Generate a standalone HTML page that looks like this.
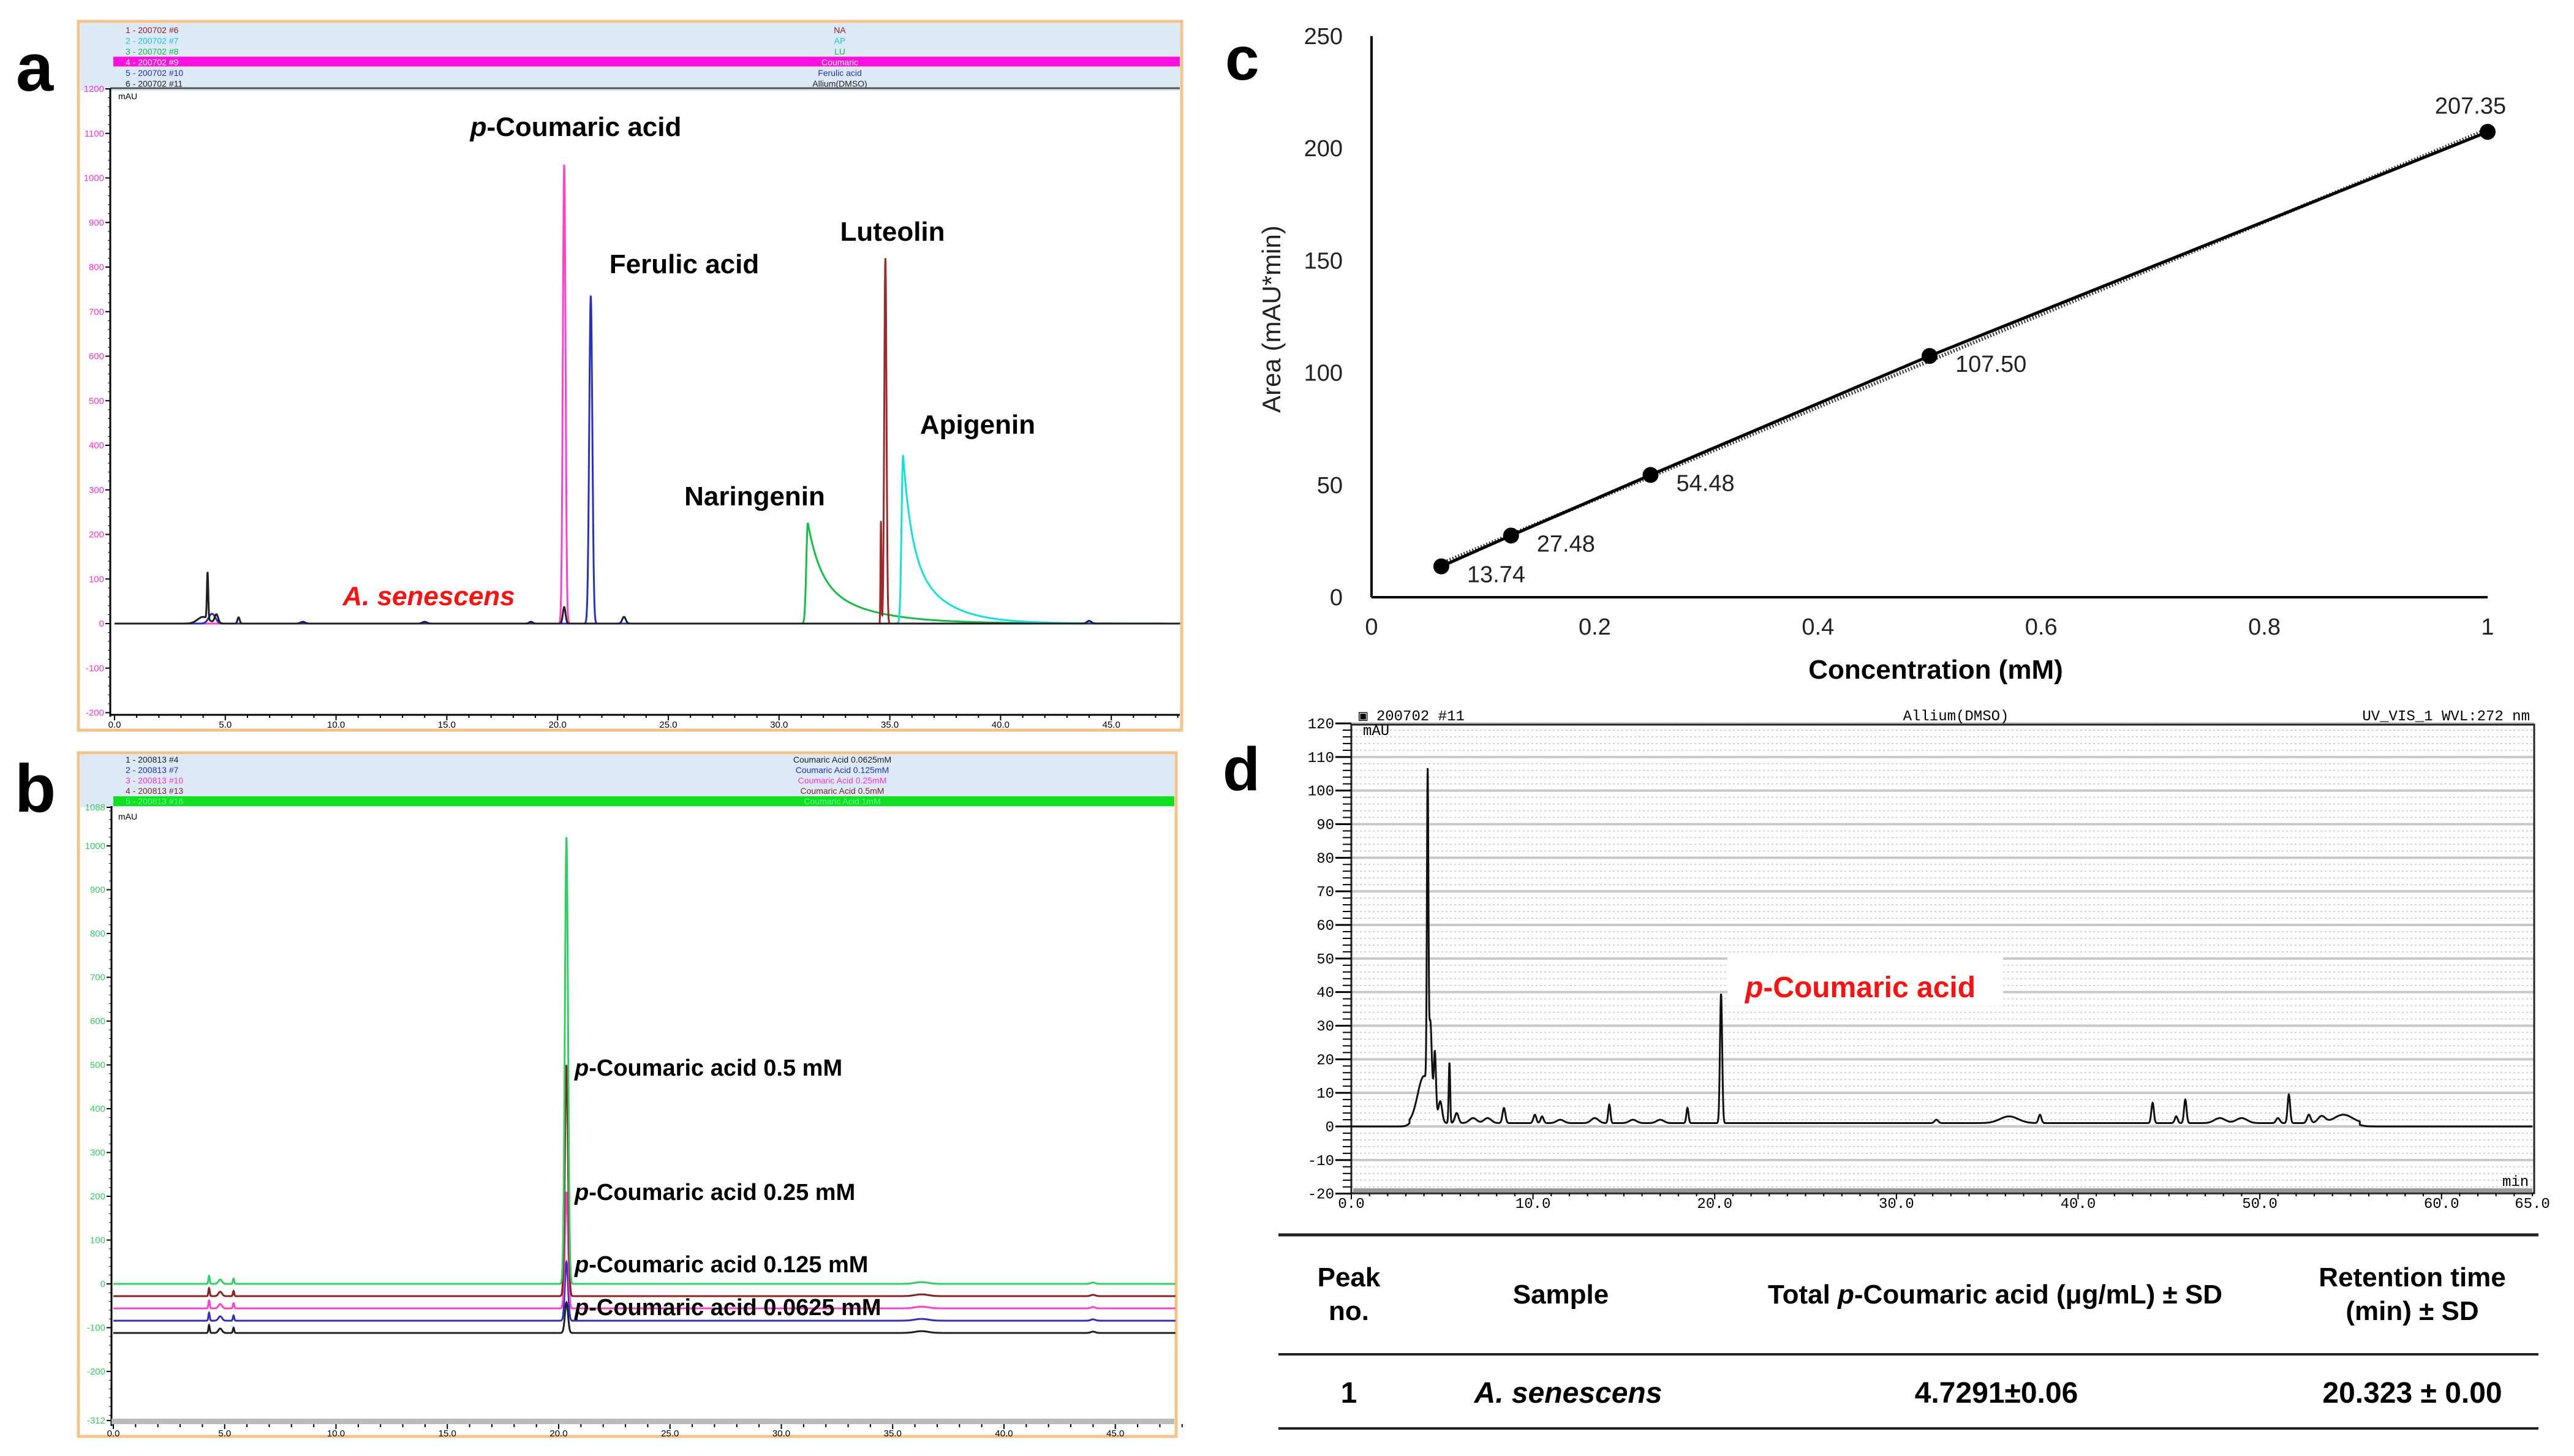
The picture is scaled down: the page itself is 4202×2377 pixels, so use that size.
<!DOCTYPE html>
<html><head><meta charset="utf-8"><style>
html,body{margin:0;padding:0;background:#fff;}
svg{display:block;font-family:"Liberation Sans",Arial,sans-serif;}
</style></head><body>
<svg id="fig" width="4202" height="2377" viewBox="0 0 4202 2377" xmlns="http://www.w3.org/2000/svg">
<rect width="4202" height="2377" fill="#fff"/>
<g id="pa"></g>
<g id="pb"></g>
<g id="pc"></g>
<g id="pd"></g>
</svg>
<script>
// ---------- DATA ----------
const aNA = [[31.3,226,0.07,2.2]];
const aAP = [[35.6,378,0.07,1.5]];
const aLU = [[34.8,820,0.05,0],[34.6,230,0.02,0]];
const aCOU = [[20.3,1030,0.06,0]];
const aFER = [[21.5,736,0.07,0],[4.4,22,0.15,0]];
const aALL = [[4.2,105,0.03,0],[4.0,15,0.25,0],[4.6,20,0.08,0],[5.6,14,0.05,0],[8.5,4,0.1,0],[14,4,0.1,0],[18.8,4,0.08,0],[20.3,37,0.06,0],[23,15,0.08,0],[44,6,0.1,0]];
const aSeries = [aNA, aAP, aLU, aCOU, aFER, aALL];
const aColors = ["#10c040","#10e0e0","#a02828","#ff40c8","#2830c0","#202020"];
const aNames = ["naringenin-trace","apigenin-trace","luteolin-trace","coumaric-trace","ferulic-trace","allium-trace"];
const aYTicks = [1200,1100,1000,900,800,700,600,500,400,300,200,100,0,-100,-200];
const aXTicks = [0,5,10,15,20,25,30,35,40,45];
const bOffsets = [0,-28,-56,-84,-112];
const bPeaks = [1020,528,266,134,70];
const bColors = ["#30d060","#8a2020","#ff40c8","#3030c0","#202020"];
const bYTicks = [1088,1000,900,800,700,600,500,400,300,200,100,0,-100,-200,-312];
const bXTicks = [0,5,10,15,20,25,30,35,40,45];
const cConc = [0.0625,0.125,0.25,0.5,1];
const cArea = [13.74,27.48,54.48,107.50,207.35];
const cLabels = ["13.74","27.48","54.48","107.50","207.35"];
const cYTicks = [0,50,100,150,200,250];
const cXTicks = [0,0.2,0.4,0.6,0.8,1];
const cXTickLabels = ["0","0.2","0.4","0.6","0.8","1"];
const dPeaks = [[4.0,14,0.35,0],[4.2,90,0.04,0],[4.35,22,0.08,0],[4.6,18,0.06,0],[4.9,6,0.1,0],[5.4,18,0.04,0],[5.8,3,0.1,0],[6.7,1.5,0.2,0],[7.5,1.5,0.2,0],[8.4,4.5,0.08,0],[10.1,2.5,0.08,0],[10.5,2,0.08,0],[11.5,1,0.2,0],[13.4,1.5,0.2,0],[14.2,5.5,0.06,0],[15.5,1,0.2,0],[17,1,0.2,0],[18.5,4.5,0.06,0],[20.35,38.5,0.06,0],[32.2,1,0.1,0],[36.2,2,0.5,0],[37.9,2.5,0.08,0],[44.1,6,0.07,0],[45.4,2,0.08,0],[45.9,7,0.07,0],[47.8,1.5,0.3,0],[49,1.5,0.3,0],[51,1.5,0.1,0],[51.6,8.5,0.07,0],[52.7,2.5,0.1,0],[53.4,2,0.2,0],[54.6,2.5,0.5,0]];
const dYTicks = [120,110,100,90,80,70,60,50,40,30,20,10,0,-10,-20];
const dXTicks = [0,10,20,30,40,50,60,65];

const NS="http://www.w3.org/2000/svg";
function mk(parent, tag, attrs, text){
  const e=document.createElementNS(NS,tag);
  for(const k in attrs) e.setAttribute(k,attrs[k]);
  if(text!==undefined) e.textContent=text;
  parent.appendChild(e); return e;
}
function signal(peaks,t){
  let v=0;
  for(const p of peaks){
    const [t0,h,w,tau]=p;
    const dt=t-t0;
    if(tau>0 && dt>0){ v+=h*(0.55*Math.exp(-dt/(tau*0.25))+0.45*Math.exp(-dt/tau)); }
    else v+=h*Math.exp(-dt*dt/(2*w*w));
  }
  return v;
}
function pathFor(peaks,t1,t2,sx,sy,off,baseFn){
  let d="";
  for(let t=t1;t<=t2;t+=0.01){
    const y=signal(peaks,t)+(off||0)+(baseFn?baseFn(t):0);
    d+=(d?"L":"M")+sx(t).toFixed(1)+","+sy(y).toFixed(1);
  }
  return d;
}

(function(){
  const g=document.getElementById('pa');
  const L=128,R=1929,T=35,B=1192;
  const x0=187, xPer=36.16, y0=1018, yPer=(1018-145)/1200;
  const sx=t=>x0+t*xPer, sy=v=>y0-v*yPer;
  let e;
  e=mk(g,'text',{x:26,y:148,'font-size':110,'font-weight':'bold',fill:'#000'},'a');
   
  e=mk(g,'rect',{x:L,y:T,width:R-L,height:B-T,fill:'#fff',stroke:'#f5c28a','stroke-width':5});
   
  e=mk(g,'rect',{x:L+3,y:T+3,width:R-L-6,height:110,fill:'#dceaf8'});
   
  const rowsL=["1 - 200702 #6","2 - 200702 #7","3 - 200702 #8","4 - 200702 #9","5 - 200702 #10","6 - 200702 #11"];
  const rowsR=["NA","AP","LU","Coumaric","Ferulic acid","Allium(DMSO)"];
  const rowC=["#8a2020","#10c8d8","#10c040","#ffffff","#2030c0","#202020"];
  rowsL.forEach((s,i)=>{
    const y=50+i*17.5;
    if(i===3){ const r=mk(g,'rect',{x:185,y:y-10,width:R-185-3,height:16,fill:'#ff10e0'});
        }
    const a=mk(g,'text',{x:205,y:y+4,'font-size':14,fill:rowC[i]},s);
     
    const b=mk(g,'text',{x:1371,y:y+4,'font-size':14,fill:rowC[i],'text-anchor':'middle'},rowsR[i]);
     
  });
  e=mk(g,'line',{x1:180,y1:144,x2:R-3,y2:144,stroke:'#555','stroke-width':3});
   
  e=mk(g,'line',{x1:180,y1:144,x2:180,y2:1170,stroke:'#000','stroke-width':3});
   
  e=mk(g,'line',{x1:180,y1:1167,x2:R-3,y2:1167,stroke:'#000','stroke-width':3});
   
  e=mk(g,'text',{x:193,y:162,'font-size':14,fill:'#000'},'mAU');
   
  aYTicks.forEach(v=>{
    const t=mk(g,'text',{x:170,y:sy(v)+5,'font-size':15,fill:'#ff30d0','text-anchor':'end'},String(v));
     
    const l=mk(g,'line',{x1:172,y1:sy(v),x2:180,y2:sy(v),stroke:'#000','stroke-width':2});
     
  });
  for(let v=-200;v<=1200;v+=20){ mk(g,'line',{x1:176,y1:sy(v),x2:180,y2:sy(v),stroke:'#000','stroke-width':1}); }
  aXTicks.forEach(v=>{
    const t=mk(g,'text',{x:sx(v),y:1188,'font-size':15,fill:'#000','text-anchor':'middle'},v.toFixed(1));
     
  });
  for(let v=0;v<=48;v+=1){ mk(g,'line',{x1:sx(v),y1:1167,x2:sx(v),y2:v%5===0?1176:1172,stroke:'#000','stroke-width':2}); }
  aSeries.forEach((pk,i)=>{
    const p=mk(g,'path',{d:pathFor(pk,0,48.1,sx,sy,0),fill:'none',stroke:aColors[i],'stroke-width':3});
     
  });
  const labs=[["p-Coumaric acid",940,222],["Ferulic acid",1117,446],["Luteolin",1457,393],["Apigenin",1596,708],["Naringenin",1232,825]];
  labs.forEach(l=>{
    let t;
    if(l[0].startsWith('p-')){
      t=mk(g,'text',{x:l[1],y:l[2],'font-size':44,'font-weight':'bold','text-anchor':'middle'});
      mk(t,'tspan',{'font-style':'italic'},'p');
      mk(t,'tspan',{},'-Coumaric acid');
    } else t=mk(g,'text',{x:l[1],y:l[2],'font-size':44,'font-weight':'bold','text-anchor':'middle'},l[0]);
     
  });
  e=mk(g,'text',{x:700,y:988,'font-size':44,'font-weight':'bold','font-style':'italic',fill:'#ff1010','text-anchor':'middle'},'A. senescens');
   
})();

(function(){
  const g=document.getElementById('pb');
  const L=128,R=1920,T=1229,B=2345;
  const x0=185, xPer=36.35, y0=2096, yPer=0.715;
  const sx=t=>x0+t*xPer, sy=v=>y0-v*yPer;
  let e;
  e=mk(g,'text',{x:24,y:1325,'font-size':110,'font-weight':'bold'},'b');
   
  e=mk(g,'rect',{x:L,y:T,width:R-L,height:B-T,fill:'#fff',stroke:'#f5c28a','stroke-width':5});
   
  e=mk(g,'rect',{x:L+3,y:T+3,width:R-L-6,height:86,fill:'#dceaf8'});
   
  const rowsL=["1 - 200813 #4","2 - 200813 #7","3 - 200813 #10","4 - 200813 #13","5 - 200813 #16"];
  const rowsR=["Coumaric Acid 0.0625mM","Coumaric Acid 0.125mM","Coumaric Acid 0.25mM","Coumaric Acid 0.5mM","Coumaric Acid 1mM"];
  const rowC=["#202020","#2030c0","#ff30d0","#8a2020","#60ff90"];
  rowsL.forEach((s,i)=>{
    const y=1241+i*17;
    if(i===4){ const r=mk(g,'rect',{x:185,y:y-9,width:R-185-3,height:16,fill:'#10e020'});
        }
    const a=mk(g,'text',{x:205,y:y+4,'font-size':14,fill:rowC[i]},s);
     
    const b=mk(g,'text',{x:1375,y:y+4,'font-size':14,fill:rowC[i],'text-anchor':'middle'},rowsR[i]);
     
  });
  e=mk(g,'line',{x1:182,y1:1316,x2:182,y2:2328,stroke:'#000','stroke-width':3});
   
  e=mk(g,'rect',{x:182,y:2316,width:R-185,height:9,fill:'#bbb'});
   
  e=mk(g,'text',{x:193,y:1338,'font-size':14},'mAU');
   
  bYTicks.forEach(v=>{
    const t=mk(g,'text',{x:172,y:sy(v)+5,'font-size':15,fill:'#30d060','text-anchor':'end'},String(v));
     
    mk(g,'line',{x1:174,y1:sy(v),x2:182,y2:sy(v),stroke:'#000','stroke-width':2});
  });
  for(let v=-300;v<=1080;v+=20){ mk(g,'line',{x1:178,y1:sy(v),x2:182,y2:sy(v),stroke:'#000','stroke-width':1}); }
  bXTicks.forEach(v=>{
    const t=mk(g,'text',{x:sx(v),y:2345,'font-size':15,'text-anchor':'middle'},v.toFixed(1));
     
  });
  for(let v=0;v<=48;v+=1){ mk(g,'line',{x1:sx(v),y1:2325,x2:sx(v),y2:v%5===0?2333:2330,stroke:'#000','stroke-width':2}); }
  for(let i=bOffsets.length-1;i>=0;i--){
    const pk=[[20.35,bPeaks[i],0.07,0],[4.3,18,0.03,0],[4.8,10,0.08,0],[5.4,12,0.03,0],[36.3,4,0.3,0],[44,3,0.1,0]];
    const p=mk(g,'path',{d:pathFor(pk,0,47.7,sx,sy,bOffsets[i]),fill:'none',stroke:bColors[i],'stroke-width':3});
     
  }
  const labs=[["0.5 mM",1756],["0.25 mM",1959],["0.125 mM",2077],["0.0625 mM",2147]];
  labs.forEach(l=>{
    const t=mk(g,'text',{x:938,y:l[1],'font-size':38,'font-weight':'bold'});
    mk(t,'tspan',{'font-style':'italic'},'p');
    mk(t,'tspan',{},'-Coumaric acid '+l[0]);
     
  });
})();

(function(){
  const g=document.getElementById('pc');
  const X0=2239,X1=4061,Y0=975,Y1=59;
  const sx=v=>X0+v*(X1-X0), sy=v=>Y0-v/250*(Y0-Y1);
  let e;
  e=mk(g,'text',{x:2000,y:130,'font-size':100,'font-weight':'bold'},'c');
   
  e=mk(g,'line',{x1:X0,y1:Y1,x2:X0,y2:Y0,stroke:'#000','stroke-width':4});
   
  e=mk(g,'line',{x1:X0,y1:Y0,x2:X1,y2:Y0,stroke:'#000','stroke-width':4});
   
  cYTicks.forEach(v=>{
    const t=mk(g,'text',{x:2192,y:sy(v)+13,'font-size':38,'text-anchor':'end',fill:'#222'},String(v));
     
  });
  cXTicks.forEach((v,i)=>{
    const t=mk(g,'text',{x:sx(v),y:1036,'font-size':38,'text-anchor':'middle',fill:'#222'},cXTickLabels[i]);
     
  });
  e=mk(g,'text',{x:2090,y:521,'font-size':42,'text-anchor':'middle',fill:'#222',transform:'rotate(-90 2090 521)'},'Area (mAU*min)');
   
  e=mk(g,'text',{x:3160,y:1108,'font-size':44,'font-weight':'bold','text-anchor':'middle'},'Concentration (mM)');
   
  const n=cConc.length; let mx=0,my=0; for(let i=0;i<n;i++){mx+=cConc[i];my+=cArea[i];} mx/=n; my/=n;
  let sxy=0,sxx=0; for(let i=0;i<n;i++){sxy+=(cConc[i]-mx)*(cArea[i]-my);sxx+=(cConc[i]-mx)**2;}
  const m=sxy/sxx, b=my-m*mx;
  e=mk(g,'line',{x1:sx(cConc[0]),y1:sy(m*cConc[0]+b),x2:sx(cConc[n-1]),y2:sy(m*cConc[n-1]+b),stroke:'#333','stroke-width':6,'stroke-dasharray':'2 3'});
   
  let d=""; for(let i=0;i<n;i++) d+=(i?"L":"M")+sx(cConc[i])+","+sy(cArea[i]);
  e=mk(g,'path',{d:d,fill:'none',stroke:'#000','stroke-width':5});
   
  for(let i=0;i<n;i++){
    const c=mk(g,'circle',{cx:sx(cConc[i]),cy:sy(cArea[i]),r:13,fill:'#000'});
     
    const last=i===n-1;
    const t=mk(g,'text',{x:last?sx(cConc[i])-28:sx(cConc[i])+42,y:last?sy(cArea[i])-30:sy(cArea[i])+26,'font-size':38,fill:'#222','text-anchor':last?'middle':'start'},cLabels[i]);
     
  }
})();

(function(){
  const g=document.getElementById('pd');
  const L=2206,R=4137,T=1183,B=1948;
  const x0=2206, xPer=(4134-2206)/65, y0=1839, yPer=(1839-1181)/120;
  const sx=t=>x0+t*xPer, sy=v=>y0-v*yPer;
  let e;
  e=mk(g,'text',{x:1996,y:1290,'font-size':100,'font-weight':'bold'},'d');
   
  for(let v=-20;v<=120;v+=2){
    if(v%10===0){ mk(g,'line',{x1:L,y1:sy(v),x2:R,y2:sy(v),stroke:'#c8c8c8','stroke-width':4}); }
    else mk(g,'line',{x1:L,y1:sy(v),x2:R,y2:sy(v),stroke:'#d0d0d0','stroke-width':2,'stroke-dasharray':'3 4'});
  }
  e=mk(g,'rect',{x:L,y:T,width:R-L,height:B-T,fill:'none',stroke:'#222','stroke-width':3});
   
  e=mk(g,'rect',{x:L+3,y:B-8,width:R-L-6,height:6,fill:'#999'});
  dYTicks.forEach(v=>{
    const t=mk(g,'text',{x:2178,y:sy(v)+8,'font-size':24,'font-family':'Liberation Mono, monospace','text-anchor':'end'},String(v));
     
    mk(g,'line',{x1:2180,y1:sy(v),x2:L,y2:sy(v),stroke:'#000','stroke-width':3});
  });
  for(let v=-20;v<=120;v+=2){ mk(g,'line',{x1:2192,y1:sy(v),x2:L,y2:sy(v),stroke:'#000','stroke-width':2}); }
  dXTicks.forEach(v=>{
    const t=mk(g,'text',{x:sx(v),y:1972,'font-size':24,'font-family':'Liberation Mono, monospace','text-anchor':'middle'},v.toFixed(1));
     
  });
  for(let v=0;v<=65;v+=1){ mk(g,'line',{x1:sx(v),y1:B,x2:sx(v),y2:B+(v%10===0?10:5),stroke:'#000','stroke-width':2}); }
  e=mk(g,'text',{x:2218,y:1176,'font-size':24,'font-family':'Liberation Mono, monospace'},'▣ 200702 #11');
   
  e=mk(g,'text',{x:3193,y:1176,'font-size':24,'font-family':'Liberation Mono, monospace','text-anchor':'middle'},'Allium(DMSO)');
   
  e=mk(g,'text',{x:4130,y:1176,'font-size':24,'font-family':'Liberation Mono, monospace','text-anchor':'end'},'UV_VIS_1 WVL:272 nm');
   
  e=mk(g,'text',{x:2225,y:1200,'font-size':24,'font-family':'Liberation Mono, monospace'},'mAU');
   
  e=mk(g,'text',{x:4085,y:1936,'font-size':24,'font-family':'Liberation Mono, monospace'},'min');
   
  const base=t=>(t>3.2&&t<55.5)?1:0;
  e=mk(g,'path',{d:pathFor(dPeaks,0,65,sx,sy,0,base),fill:'none',stroke:'#111','stroke-width':3});
   
  e=mk(g,'rect',{x:2820,y:1560,width:450,height:82,fill:'#fff'});
  e=mk(g,'text',{x:2849,y:1628,'font-size':48,'font-weight':'bold',fill:'#ff1010'});
  mk(e,'tspan',{'font-style':'italic'},'p');
  mk(e,'tspan',{},'-Coumaric acid');
   
  const TL=2087,TR=4144;
  [[2016,5],[2211,4],[2332,4]].forEach(r=>{
    const l=mk(g,'line',{x1:TL,y1:r[0],x2:TR,y2:r[0],stroke:'#222','stroke-width':r[1]});
     
  });
  const hs={'font-size':44,'font-weight':'bold','text-anchor':'middle'};
  function tx(x,y,s,extra,name){const t=mk(g,'text',Object.assign({x:x,y:y},hs,extra||{}),s);return t;}
  tx(2202,2100,'Peak',{},'header-peak');
  tx(2202,2155,'no.',{},'header-peak-no');
  tx(2548,2128,'Sample',{},'header-sample');
  e=tx(3257,2128,'',{},'header-total');
  mk(e,'tspan',{},'Total ');
  mk(e,'tspan',{'font-style':'italic'},'p');
  mk(e,'tspan',{},'-Coumaric acid (μg/mL) ± SD');
  tx(3938,2100,'Retention time',{},'header-retention');
  tx(3938,2155,'(min) ± SD',{},'header-retention-unit');
  tx(2202,2290,'1',{'font-size':48},'cell-peak-no');
  tx(2560,2290,'A. senescens',{'font-size':48,'font-style':'italic'},'cell-sample');
  tx(3259,2290,'4.7291±0.06',{'font-size':48},'cell-total');
  tx(3938,2290,'20.323 ± 0.00',{'font-size':48},'cell-retention');
})();
</script>
</body></html>
